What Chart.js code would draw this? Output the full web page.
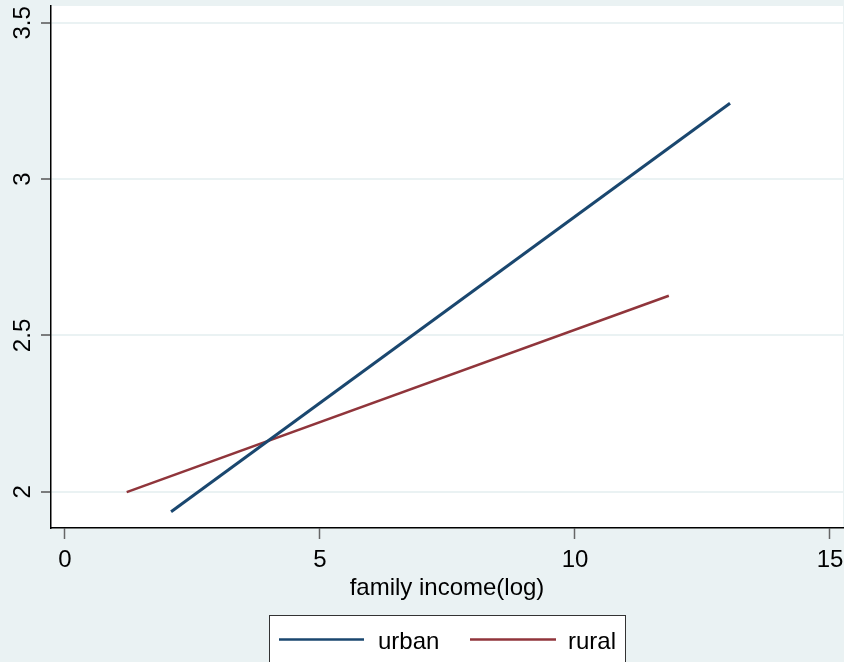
<!DOCTYPE html>
<html>
<head>
<meta charset="utf-8">
<script src="https://cdn.jsdelivr.net/npm/chart.js@4.4.1/dist/chart.umd.min.js"></script>
<style>
  html, body { margin: 0; padding: 0; background: #eaf2f3; }
  #wrap { width: 844px; height: 662px; }
</style>
</head>
<body>
<div id="wrap"><canvas id="fit" width="844" height="662"></canvas></div>
<script>
// fitted lines
const urbanX = [2.08, 13.04];
const urbanY = [1.936, 3.243];
const ruralX = [1.21, 11.84];
const ruralY = [1.999, 2.627];

const xTicks = [0, 5, 10, 15];
const yTicks = [2, 2.5, 3, 3.5];

const seriesNames = ["urban", "rural"];
const seriesColors = ["#1a476f", "#90353b"];

const FONT = "'Liberation Sans', Arial, sans-serif";
const BG = "#eaf2f3";

const toPoints = (xs, ys) => xs.map((x, i) => ({ x: x, y: ys[i] }));

// graph region + white plot region
const backdrop = {
    id: "backdrop",
    beforeDraw(chart) {
        const { ctx, chartArea: a } = chart;
        ctx.save();
        ctx.fillStyle = BG;
        ctx.fillRect(0, 0, chart.width, chart.height);
        ctx.fillStyle = "#ffffff";
        ctx.fillRect(a.left, a.top, a.right - a.left, a.bottom - a.top);
        ctx.restore();
    },
};

// stata style boxed legend below the axis title
const boxLegend = {
    id: "boxLegend",
    afterDraw(chart) {
        const ctx = chart.ctx;
        const left = 269.5, right = 625.5, top = 615.5;
        ctx.save();
        ctx.fillStyle = "#ffffff";
        ctx.fillRect(left, top, right - left, 60);
        ctx.strokeStyle = "#333333";
        ctx.lineWidth = 1;
        ctx.strokeRect(left, top, right - left, 60);

        const slots = [{ x0: 279, x1: 364, tx: 378 }, { x0: 470, x1: 556, tx: 568 }];
        chart.data.datasets.forEach((ds, i) => {
            const s = slots[i];
            ctx.strokeStyle = ds.borderColor;
            ctx.lineWidth = 2.5;
            ctx.beginPath();
            ctx.moveTo(s.x0, 639.5);
            ctx.lineTo(s.x1, 639.5);
            ctx.stroke();
            ctx.fillStyle = "#000000";
            ctx.font = "24px " + FONT;
            ctx.textBaseline = "alphabetic";
            ctx.textAlign = "left";
            ctx.fillText(ds.label, s.tx, 649);
        });
        ctx.restore();
    },
};

new Chart(document.getElementById("fit"), {
    type: "scatter",
    data: {
        datasets: [
            {
                label: seriesNames[0],
                data: toPoints(urbanX, urbanY),
                showLine: true,
                borderColor: seriesColors[0],
                borderWidth: 3,
                pointRadius: 0,
            },
            {
                label: seriesNames[1],
                data: toPoints(ruralX, ruralY),
                showLine: true,
                borderColor: seriesColors[1],
                borderWidth: 2.5,
                pointRadius: 0,
            },
        ],
    },
    options: {
        responsive: false,
        animation: false,
        layout: { padding: { top: 6, right: 1, left: 0, bottom: 0 } },
        plugins: {
            legend: { display: false },
            tooltip: { enabled: false },
        },
        scales: {
            x: {
                type: "linear",
                min: -0.2745,
                max: 15.255,
                afterBuildTicks: (scale) => { scale.ticks = xTicks.map((v) => ({ value: v })); },
                afterFit: (scale) => {
                    scale.height = 134;
                    scale.paddingLeft = 0;
                    scale.paddingRight = 0;
                },
                border: { color: "#000000", width: 1.5 },
                grid: {
                    drawOnChartArea: false,
                    drawTicks: true,
                    tickLength: 11,
                    tickColor: "#666666",
                    tickWidth: 1.5,
                },
                ticks: {
                    color: "#000000",
                    font: { family: FONT, size: 24 },
                    padding: 7,
                    maxRotation: 0,
                    autoSkip: false,
                },
                title: {
                    display: true,
                    text: "family income(log)",
                    color: "#000000",
                    font: { family: FONT, size: 24 },
                    padding: { top: 0, bottom: 59 },
                },
            },
            y: {
                type: "linear",
                min: 1.884,
                max: 3.554,
                afterBuildTicks: (scale) => { scale.ticks = yTicks.map((v) => ({ value: v })); },
                afterFit: (scale) => {
                    scale.width = 51;
                    scale.paddingTop = 0;
                    scale.paddingBottom = 0;
                },
                border: { color: "#000000", width: 1.5 },
                grid: {
                    color: BG,
                    lineWidth: 2,
                    drawTicks: true,
                    tickLength: 10,
                    tickColor: "#555555",
                    tickWidth: 1.5,
                },
                ticks: {
                    color: "#000000",
                    font: { family: FONT, size: 24 },
                    minRotation: 90,
                    maxRotation: 90,
                    crossAlign: "center",
                    padding: 1,
                    autoSkip: false,
                    callback: (v) => String(v),
                },
            },
        },
    },
    plugins: [backdrop, boxLegend],
});
</script>
</body>
</html>
